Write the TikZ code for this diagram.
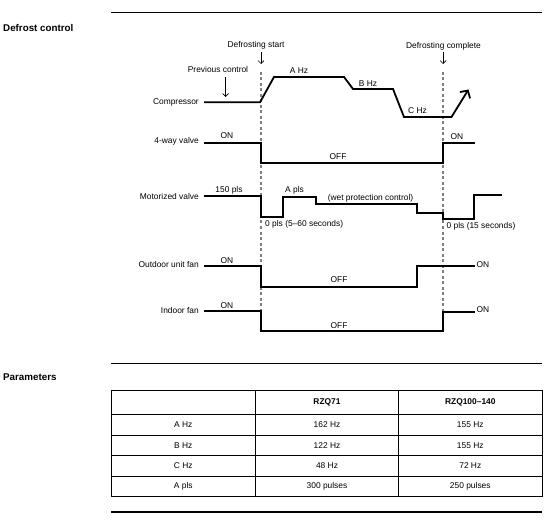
\documentclass[tikz,border=0pt]{standalone}
\usepackage{fontspec}
\setmainfont{Liberation Sans}
\usetikzlibrary{arrows.meta}
\begin{document}
\begin{tikzpicture}[x=1pt,y=-1pt,
  txt/.style={inner sep=0pt,font=\fontsize{8.4}{9}\selectfont},
  lbl/.style={txt,anchor=east},
  head/.style={inner sep=0pt,font=\fontsize{9.8}{11}\selectfont\bfseries,anchor=west},
  sig/.style={line width=1.8pt,line join=miter},
  rule/.style={line width=1.1pt},
  grid/.style={line width=0.9pt},
  guide/.style={gray,line width=1.1pt,dash pattern=on 3pt off 2.5pt},
  darr/.style={line width=0.7pt,-{Straight Barb[length=3pt,width=6pt,line width=0.7pt]}}]
\useasboundingbox (0,0) rectangle (560,524);
% headings and rules
\node[head] (hdc) at (3,27.7) {Defrost control};
\coordinate (r1a) at (111,12.5); \coordinate (r1b) at (541.5,12.5);
\draw[rule] (r1a) -- (r1b);
% event labels
\node[txt] (ds) at (256,45.7) {Defrosting start};
\node[txt] (dc) at (443.5,46) {Defrosting complete};
\node[txt] (pc) at (218,69) {Previous control};
\coordinate (dsa) at (261,52); \coordinate (dsb) at (261,64);
\coordinate (dca) at (443,52); \coordinate (dcb) at (443,64);
\coordinate (pca) at (225.7,77); \coordinate (pcb) at (225.7,97);
\draw[darr] (dsa) -- (dsb);
\draw[darr] (dca) -- (dcb);
\draw[darr] (pca) -- (pcb);
% dashed lines
\coordinate (d1a) at (261,72); \coordinate (d1b) at (261,331);
\coordinate (d2a) at (443,72); \coordinate (d2b) at (443,312);
\draw[guide] (d1a) -- (d1b);
\draw[guide] (d2a) -- (d2b);
% row labels
\node[lbl] (lcomp) at (199,102) {Compressor};
\node[lbl] (l4w) at (199,141.5) {4-way valve};
\node[lbl] (lmv) at (199,196) {Motorized valve};
\node[lbl] (lof) at (199,264.3) {Outdoor unit fan};
\node[lbl] (lif) at (199,310) {Indoor fan};
% compressor
\draw[sig] (204,102.3) -- (260,102.3) -- (274,77) -- (344,77) -- (353,89) -- (393,89) -- (404,117) -- (452,117);
\draw[sig,-{Straight Barb[length=5.5pt,width=12pt,line width=1.8pt]}] (451.5,117) -- (468.5,89.5);
\node[txt] (ahz) at (299,71) {A Hz};
\node[txt] (bhz) at (368,84) {B Hz};
\node[txt] (chz) at (417.5,111) {C Hz};
% 4-way valve
\draw[sig] (204,142.7) -- (261,142.7) -- (261,162.7) -- (443,162.7) -- (443,143.3) -- (475,143.3);
\node[txt] (on1) at (227,135.7) {ON};
\node[txt] (off1) at (338,156.7) {OFF};
\node[txt] (on1r) at (457,136.7) {ON};
% motorized valve
\draw[sig] (204,196) -- (261,196) -- (261,216.7) -- (282.7,216.7) -- (282.7,196.7) -- (316,196.7) -- (316,204.3) -- (416.7,204.3) -- (416.7,212.7) -- (443.3,212.7) -- (443.3,219.3) -- (474.3,219.3) -- (474.3,195) -- (502.3,195);
\node[txt] (p150) at (229,190.7) {150 pls};
\node[txt] (apls) at (294.5,190.7) {A pls};
\node[txt] (wet) at (370.5,198.3) {(wet protection control)};
\node[txt,anchor=west] (z1) at (265,224) {0 pls (5–60 seconds)};
\node[txt,anchor=west] (z2) at (446.5,226.7) {0 pls (15 seconds)};
% outdoor unit fan
\draw[sig] (204,266) -- (261,266) -- (261,286.7) -- (416.7,286.7) -- (416.7,266) -- (475,266);
\node[txt] (on2) at (227,260.7) {ON};
\node[txt] (off2) at (339,280) {OFF};
\node[txt,anchor=west] (on2r) at (476.5,264.3) {ON};
% indoor fan
\draw[sig] (204,311) -- (261,311) -- (261,331) -- (443,331) -- (443,311.7) -- (475,311.7);
\node[txt] (on3) at (227,305.7) {ON};
\node[txt] (off3) at (339,325.7) {OFF};
\node[txt,anchor=west] (on3r) at (476.5,310) {ON};
% parameters
\node[head] (hpar) at (3,377.3) {Parameters};
\coordinate (r2a) at (111,363.3); \coordinate (r2b) at (541.5,363.3);
\coordinate (r3a) at (111,512); \coordinate (r3b) at (541.5,512);
\draw[rule] (r2a) -- (r2b);
\draw[rule] (r3a) -- (r3b);
% table
\draw[grid] (111,390) rectangle (542.3,496);
\foreach \yy in {414.3,435,455.3,476} \draw[grid] (111,\yy) -- (542.3,\yy);
\draw[grid] (255.7,390) -- (255.7,496);
\draw[grid] (398.3,390) -- (398.3,496);
\node[txt,font=\fontsize{8.4}{9}\selectfont\bfseries] (h1) at (327,402.2) {RZQ71};
\node[txt,font=\fontsize{8.4}{9}\selectfont\bfseries] (h2) at (470.3,402.2) {RZQ100–140};
\node[txt] (c11) at (183.3,424.7) {A Hz};
\node[txt] (c12) at (327,424.7) {162 Hz};
\node[txt] (c13) at (470.3,424.7) {155 Hz};
\node[txt] (c21) at (183.3,445.2) {B Hz};
\node[txt] (c22) at (327,445.2) {122 Hz};
\node[txt] (c23) at (470.3,445.2) {155 Hz};
\node[txt] (c31) at (183.3,465.7) {C Hz};
\node[txt] (c32) at (327,465.7) {48 Hz};
\node[txt] (c33) at (470.3,465.7) {72 Hz};
\node[txt] (c41) at (183.3,486) {A pls};
\node[txt] (c42) at (327,486) {300 pulses};
\node[txt] (c43) at (470.3,486) {250 pulses};
\end{tikzpicture}
\end{document}
